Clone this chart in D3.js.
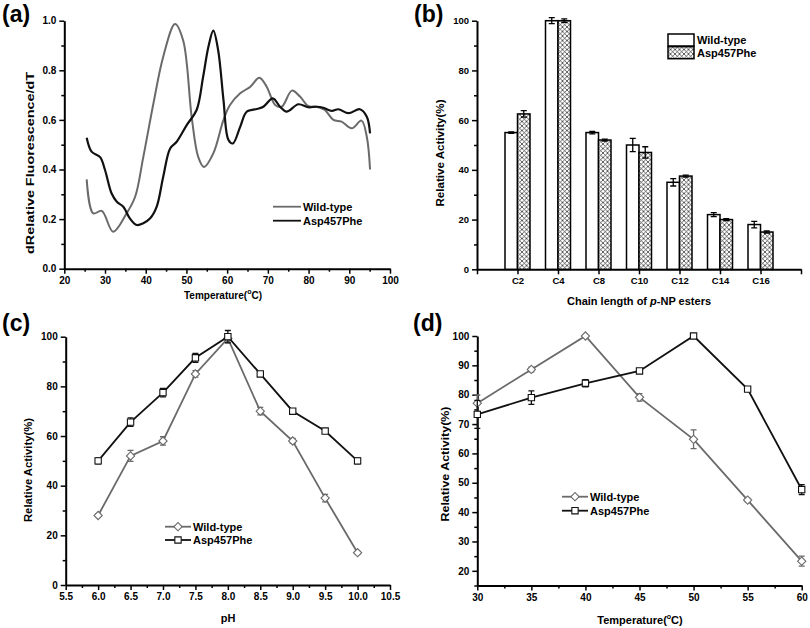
<!DOCTYPE html>
<html>
<head>
<meta charset="utf-8">
<script src="https://cdn.jsdelivr.net/npm/d3@7"></script>
<style>
body { margin: 0; background: #fff; }
text { font-family: "Liberation Sans", Arial, sans-serif; font-weight: bold; fill: #000; }
</style>
</head>
<body>
<svg id="chart" width="810" height="628"></svg>
<script>
"use strict";

//
// Data
//

// (a) melting curves, dRelative Fluorescence/dT vs temperature
var meltWtTemp = [25.5, 27.1, 29.2, 32.0, 35.3, 37.4, 39.4, 41.9, 44.3, 47.2, 49.2, 51.3, 52.9, 54.3, 56.6, 59.1, 60.7, 63.2, 65.7, 67.9, 69.7, 71.8, 73.4, 75.9, 77.9, 79.9, 82.0, 84.0, 86.1, 88.1, 90.6, 93.0, 94.3, 95.1];
var meltWtValue = [0.36, 0.223, 0.233, 0.149, 0.223, 0.29, 0.45, 0.667, 0.855, 0.987, 0.92, 0.61, 0.45, 0.41, 0.465, 0.60, 0.66, 0.707, 0.734, 0.77, 0.734, 0.66, 0.653, 0.718, 0.694, 0.656, 0.653, 0.64, 0.60, 0.593, 0.566, 0.597, 0.532, 0.40];
var meltMutTemp = [25.5, 26.7, 28.8, 30.0, 31.6, 32.9, 34.5, 36.1, 37.8, 39.4, 41.1, 42.7, 44.3, 46.0, 47.6, 50.1, 52.5, 54.1, 55.4, 56.6, 57.8, 59.1, 60.3, 61.4, 63.2, 64.8, 67.3, 68.9, 71.2, 73.0, 74.6, 77.5, 79.9, 82.0, 83.6, 85.7, 87.3, 89.8, 92.6, 94.3, 95.1];
var meltMutValue = [0.528, 0.472, 0.45, 0.398, 0.304, 0.27, 0.25, 0.203, 0.176, 0.183, 0.203, 0.25, 0.371, 0.485, 0.512, 0.58, 0.64, 0.774, 0.895, 0.96, 0.88, 0.68, 0.52, 0.505, 0.572, 0.633, 0.644, 0.653, 0.687, 0.653, 0.633, 0.663, 0.651, 0.653, 0.649, 0.636, 0.643, 0.627, 0.643, 0.613, 0.546];

// (b) substrate specificity
var chainLabels = ["C2", "C4", "C8", "C10", "C12", "C14", "C16"];
var chainWt = [55, 100, 55, 50, 35, 22, 18];
var chainWtErr = [0.3, 1.2, 0.5, 2.7, 1.5, 0.8, 1.3];
var chainMut = [62.5, 100, 52, 47, 37.5, 20, 15];
var chainMutErr = [1.3, 0.7, 0.4, 2.3, 0.4, 0.4, 0.4];

// (c) pH profile
var phValues = [6.0, 6.5, 7.0, 7.5, 8.0, 8.5, 9.0, 9.5, 10.0];
var phWt = [28, 52, 58, 85, 99.3, 70, 58, 35, 13];
var phWtErr = [0.5, 2.2, 1.7, 1.3, 1.7, 1.5, 1.0, 1.5, 0.5];
var phMut = [50, 65.6, 77.5, 91.5, 100, 85, 70, 62, 50];
var phMutErr = [1.2, 1.7, 1.7, 1.8, 2.5, 0.5, 0.6, 0.4, 1.2];

// (d) temperature profile
var tempValues = [30, 35, 40, 45, 50, 55, 60];
var tempWt = [77.1, 88.6, 100, 79.1, 64.8, 44.1, 23.3];
var tempWtErr = [2.8, 0.8, 0.3, 1.3, 3.2, 0.6, 1.7];
var tempMut = [73.3, 79, 83.9, 88.1, 100, 81.9, 47.7];
var tempMutErr = [4.8, 2.3, 1.2, 0.6, 0.3, 0.5, 1.7];

var seriesNames = ["Wild-type", "Asp457Phe"];

var GRAY = "#6a6a6a",
    BLACK = "#111";


var svg = d3.select("#chart");

// cross-hatch for the mutant bars
svg.append("defs").append("pattern")
    .attr("id", "hatch")
    .attr("patternUnits", "userSpaceOnUse")
    .attr("width", 4.5)
    .attr("height", 4.5)
    .call(function (p) {
        p.append("rect").attr("width", 4.5).attr("height", 4.5).attr("fill", "#fff");
        p.append("path").attr("d", "M0,0L4.5,4.5M4.5,0L0,4.5")
            .attr("stroke", "#222").attr("stroke-width", 0.7);
    });


//
// Helpers
//

function drawAxes (g, x, y, cfg) {

    var fs = cfg.fontSize || 10;

    // minor ticks first, without labels
    if (cfg.xMinor) {
        g.append("g")
            .attr("transform", "translate(0," + y.range()[0] + ")")
            .call(d3.axisBottom(x).tickValues(cfg.xMinor).tickSize(3).tickFormat(""))
            .call(function (a) { a.select(".domain").remove(); })
            .selectAll("line").attr("stroke-width", 1.5);
    }
    if (cfg.yMinor) {
        g.append("g")
            .attr("transform", "translate(" + x.range()[0] + ",0)")
            .call(d3.axisLeft(y).tickValues(cfg.yMinor).tickSize(3).tickFormat(""))
            .call(function (a) { a.select(".domain").remove(); })
            .selectAll("line").attr("stroke-width", 1.5);
    }

    var xa = g.append("g")
        .attr("transform", "translate(0," + y.range()[0] + ")")
        .call(d3.axisBottom(x).tickValues(cfg.xMajor).tickSize(5).tickSizeOuter(0)
            .tickPadding(3).tickFormat(cfg.xFormat));

    var ya = g.append("g")
        .attr("transform", "translate(" + x.range()[0] + ",0)")
        .call(d3.axisLeft(y).tickValues(cfg.yMajor).tickSize(5).tickSizeOuter(0)
            .tickPadding(3).tickFormat(cfg.yFormat));

    [xa, ya].forEach(function (a) {
        a.attr("font-size", fs);
        a.select(".domain").attr("stroke-width", 2).attr("stroke", "#000");
        a.selectAll(".tick line").attr("stroke-width", 1.5);
    });
}

function panelLabel (txt, x, y) {
    svg.append("text").attr("x", x).attr("y", y)
        .style("font-size", "23px").text(txt);
}

function yTitle (txt, x, y, len) {
    svg.append("text")
        .attr("transform", "translate(" + x + "," + y + ") rotate(-90)")
        .attr("text-anchor", "middle")
        .attr("dy", "0.35em")
        .attr("textLength", len)
        .attr("lengthAdjust", "spacingAndGlyphs")
        .style("font-size", "11.5px")
        .text(txt);
}

function tempTitle (x, y, size) {
    var t = svg.append("text").attr("x", x).attr("y", y)
        .attr("text-anchor", "middle")
        .style("font-size", size + "px");
    t.append("tspan").text("Temperature(");
    t.append("tspan").attr("dy", -5).style("font-size", "7px").text("o");
    t.append("tspan").attr("dy", 5).text("C)");
}

function errorBar (g, x, y, v, e, cap, color) {
    g.append("path")
        .attr("d", "M" + x + "," + y(v - e) + "V" + y(v + e) +
            "M" + (x - cap) + "," + y(v + e) + "H" + (x + cap) +
            "M" + (x - cap) + "," + y(v - e) + "H" + (x + cap))
        .attr("fill", "none")
        .attr("stroke", color)
        .attr("stroke-width", 1.3);
}

var diamond = d3.symbol().type(d3.symbolSquare).size(34),
    square = d3.symbol().type(d3.symbolSquare).size(40);

function pointSeries (g, x, y, xs, vs, es, color, isDiamond) {

    var line = d3.line()
        .x(function (d, i) { return x(xs[i]); })
        .y(function (d) { return y(d); });

    g.append("path").datum(vs)
        .attr("d", line)
        .attr("fill", "none")
        .attr("stroke", color)
        .attr("stroke-width", 1.8);

    vs.forEach(function (v, i) {
        errorBar(g, x(xs[i]), y, v, es[i], 3, color);
    });

    g.selectAll(null).data(vs).enter().append("path")
        .attr("transform", function (d, i) {
            return "translate(" + x(xs[i]) + "," + y(d) + ")" + (isDiamond ? " rotate(45)" : "");
        })
        .attr("d", isDiamond ? diamond : square)
        .attr("fill", "#fff")
        .attr("stroke", color)
        .attr("stroke-width", 1.1);
}

function lineLegend (g, x0, x1, ys, withMarkers) {
    var colors = [GRAY, BLACK];
    seriesNames.forEach(function (name, i) {
        g.append("line")
            .attr("x1", x0).attr("x2", x1).attr("y1", ys[i]).attr("y2", ys[i])
            .attr("stroke", colors[i]).attr("stroke-width", 1.8);
        if (withMarkers) {
            g.append("path")
                .attr("transform", "translate(" + ((x0 + x1) / 2) + "," + ys[i] + ")" + (i === 0 ? " rotate(45)" : ""))
                .attr("d", i === 0 ? diamond : square)
                .attr("fill", "#fff").attr("stroke", colors[i]).attr("stroke-width", 1.1);
        }
        g.append("text")
            .attr("x", x1 + 2).attr("y", ys[i]).attr("dy", "0.35em")
            .style("font-size", "11px").text(name);
    });
}


//
// (a) melting curves
//

(function () {
    var g = svg.append("g");
    var x = d3.scaleLinear().domain([20, 100]).range([64.3, 390]);
    var y = d3.scaleLinear().domain([0, 1]).range([268.7, 20.7]);

    drawAxes(g, x, y, {
        xMajor: d3.range(20, 101, 10),
        xMinor: d3.range(25, 100, 10),
        yMajor: d3.range(0, 1.01, 0.2),
        yMinor: d3.range(0.1, 1, 0.2),
        xFormat: d3.format("d"),
        yFormat: d3.format(".1f")
    });

    var curve = d3.line()
        .curve(d3.curveCatmullRom.alpha(0.5))
        .x(function (d) { return x(d[0]); })
        .y(function (d) { return y(d[1]); });

    g.append("path").datum(d3.zip(meltWtTemp, meltWtValue))
        .attr("d", curve).attr("fill", "none")
        .attr("stroke", GRAY).attr("stroke-width", 2);

    g.append("path").datum(d3.zip(meltMutTemp, meltMutValue))
        .attr("d", curve).attr("fill", "none")
        .attr("stroke", BLACK).attr("stroke-width", 2.2);

    lineLegend(g, 273, 301, [206.7, 220.7], false);

    panelLabel("(a)", 2, 22);
    yTitle("dRelative Fluorescence/dT", 30, 163, 182);
    tempTitle(223, 299, 10);
})();


//
// (b) chain length bars
//

(function () {
    var g = svg.append("g");
    var x = d3.scaleLinear().domain([0, 8]).range([477, 801]);
    var y = d3.scaleLinear().domain([0, 100]).range([269.3, 20.7]);
    var barW = 12.5;

    drawAxes(g, x, y, {
        xMajor: d3.range(0, 9),
        yMajor: d3.range(0, 101, 20),
        yMinor: d3.range(10, 100, 20),
        xFormat: function (d) { return chainLabels[d - 1] || ""; },
        yFormat: d3.format("d"),
        fontSize: 9.5
    });

    chainLabels.forEach(function (c, i) {
        var cx = x(i + 1);
        g.append("rect")
            .attr("x", cx - barW).attr("y", y(chainWt[i]))
            .attr("width", barW).attr("height", y(0) - y(chainWt[i]))
            .attr("fill", "#fff").attr("stroke", "#000").attr("stroke-width", 1.5);
        g.append("rect")
            .attr("x", cx).attr("y", y(chainMut[i]))
            .attr("width", barW).attr("height", y(0) - y(chainMut[i]))
            .attr("fill", "url(#hatch)").attr("stroke", "#000").attr("stroke-width", 1.5);
        errorBar(g, cx - barW / 2, y, chainWt[i], chainWtErr[i], 3, "#000");
        errorBar(g, cx + barW / 2, y, chainMut[i], chainMutErr[i], 3, "#000");
    });

    // legend
    var fills = ["#fff", "url(#hatch)"];
    seriesNames.forEach(function (name, i) {
        g.append("rect")
            .attr("x", 668).attr("y", 34 + i * 12.7)
            .attr("width", 26).attr("height", 12)
            .attr("fill", fills[i]).attr("stroke", "#000").attr("stroke-width", 1.5);
        g.append("text")
            .attr("x", 697).attr("y", 40 + i * 13.3).attr("dy", "0.35em")
            .style("font-size", "11px").text(name);
    });

    panelLabel("(b)", 414, 22);
    yTitle("Relative Activity(%)", 440, 153, 107);

    var t = svg.append("text").attr("x", 639).attr("y", 305)
        .attr("text-anchor", "middle")
        .style("font-size", "11px");
    t.append("tspan").text("Chain length of ");
    t.append("tspan").style("font-style", "italic").text("p");
    t.append("tspan").text("-NP esters");
})();


//
// (c) pH
//

(function () {
    var g = svg.append("g");
    var x = d3.scaleLinear().domain([5.5, 10.5]).range([65.7, 390]);
    var y = d3.scaleLinear().domain([0, 100]).range([585, 336.7]);

    drawAxes(g, x, y, {
        xMajor: d3.range(5.5, 10.51, 0.5),
        xMinor: d3.range(5.75, 10.5, 0.5),
        yMajor: d3.range(0, 101, 20),
        yMinor: d3.range(10, 100, 20),
        xFormat: d3.format(".1f"),
        yFormat: d3.format("d")
    });

    pointSeries(g, x, y, phValues, phWt, phWtErr, GRAY, true);
    pointSeries(g, x, y, phValues, phMut, phMutErr, BLACK, false);

    lineLegend(g, 165, 191, [526.7, 540], true);

    panelLabel("(c)", 2, 331);
    yTitle("Relative Activity(%)", 28, 470, 104);

    svg.append("text").attr("x", 228).attr("y", 622)
        .attr("text-anchor", "middle").style("font-size", "11px").text("pH");
})();


//
// (d) temperature
//

(function () {
    var g = svg.append("g");
    var x = d3.scaleLinear().domain([30, 60]).range([477.3, 801.7]);
    var y = d3.scaleLinear().domain([15, 100]).range([585.5, 336]);

    drawAxes(g, x, y, {
        xMajor: d3.range(30, 61, 5),
        xMinor: d3.range(32.5, 60, 5),
        yMajor: d3.range(20, 101, 10),
        yMinor: d3.range(15, 100, 10),
        xFormat: d3.format("d"),
        yFormat: d3.format("d")
    });

    pointSeries(g, x, y, tempValues, tempWt, tempWtErr, GRAY, true);
    pointSeries(g, x, y, tempValues, tempMut, tempMutErr, BLACK, false);

    lineLegend(g, 562, 588, [496.7, 510.7], true);

    panelLabel("(d)", 413, 331);
    yTitle("Relative Activity(%)", 445, 464, 115);
    tempTitle(640, 624, 11);
})();

</script>
</body>
</html>
